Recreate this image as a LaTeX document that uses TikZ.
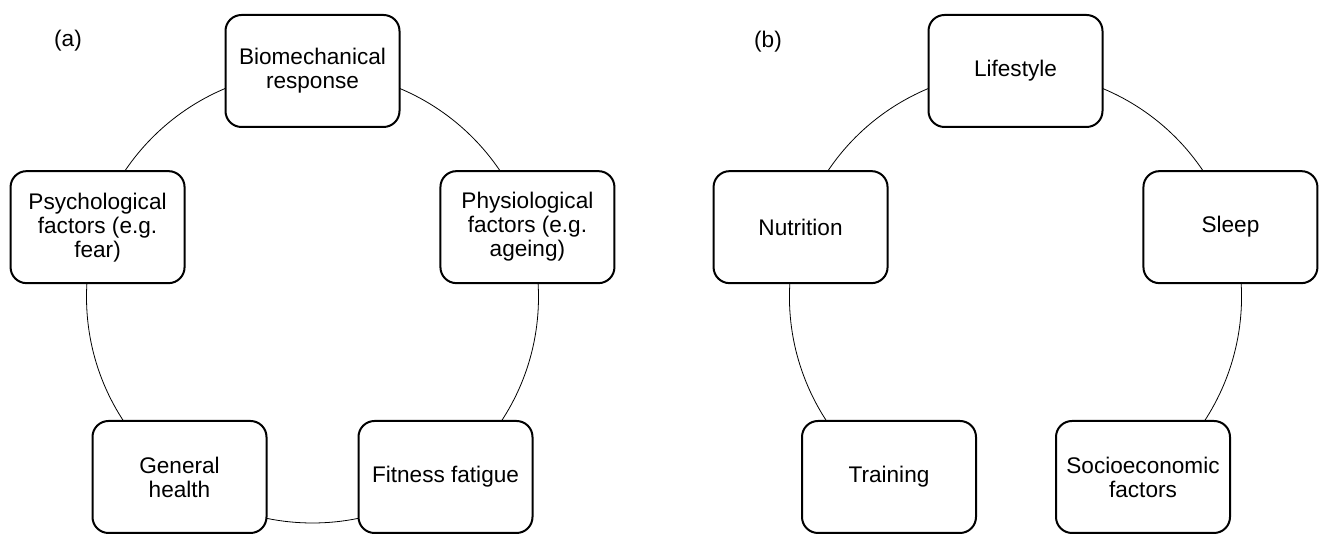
\documentclass[tikz,border=0pt]{standalone}
\usepackage{fontspec}
\setmainfont{Liberation Sans}
\usetikzlibrary{calc}

\begin{document}
\begin{tikzpicture}[
                    x=0.5pt, y=0.5pt,
                    box/.style={draw, line width=1pt, fill=white,
                        rounded corners=8pt,
                        minimum width=87pt, minimum height=56pt,
                        align=center, inner sep=2pt,
                        font=\fontsize{11.3}{12}\selectfont},
                    ring/.style={line width=0.4pt},
                    tag/.style={font=\fontsize{11.3}{12}\selectfont},
                ]
                \useasboundingbox (0,0) rectangle (1319,534);
                \coordinate (ca) at (312.5,237);
                \coordinate (cb) at (1015.5,237);

                % (a) closed ring
                \draw[ring] (ca) circle (113pt);
                \node[tag] (taga) at (68,493) {(a)};
                \node[box] (bio) at ($(ca)+(90:226)$) {Biomechanical\\response};
                \node[box] (phy) at ($(ca)+(18:226)$) {Physiological\\factors (e.g.\\ageing)};
                \node[box] (fit) at (445.5,57) {Fitness fatigue};
                \node[box] (gen) at (179.5,57) {General\\health};
                \node[box] (psy) at ($(ca)+(162:226)$) {Psychological\\factors (e.g.\\fear)};

                % (b) ring open at the bottom
                \draw[ring] ($(cb)+(-65:226)$) arc[start angle=-65, end angle=245, radius=113pt];
                \node[tag] (tagb) at (768,492) {(b)};
                \node[box] (life) at ($(cb)+(90:226)$) {Lifestyle};
                \node[box] (sleep) at ($(cb)+(18:226)$) {Sleep};
                \node[box] (socio) at (1143,57) {Socioeconomic\\factors};
                \node[box] (train) at (889,57) {Training};
                \node[box] (nutr) at ($(cb)+(162:226)$) {Nutrition};
            \end{tikzpicture}
\end{document}
